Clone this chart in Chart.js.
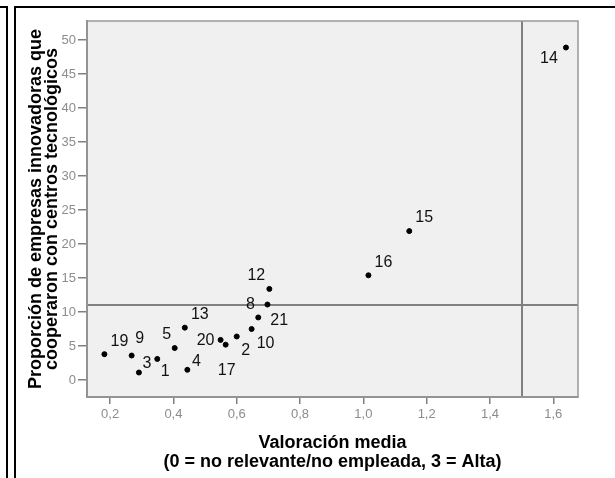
<!DOCTYPE html>
<html lang="es">

<head>
    <meta charset="UTF-8">
    <title>Valoración media vs cooperación</title>
    <style>
        body {
            margin: 0;
            padding: 0;
            background: #fff;
        }

        #wrap {
            width: 615px;
            height: 478px;
        }
    </style>
</head>

<body>
    <div id="wrap">
        <canvas id="scatterChart" width="615" height="478"></canvas>
    </div>

    <script src="https://cdn.jsdelivr.net/npm/chart.js"></script>
    <script>
        // point ids and values
        const ids = ['19', '9', '3', '1', '5', '13', '4', '20', '17', '2', '10', '21', '8', '12', '16', '15', '14'];
        const xVals = [0.182, 0.268, 0.291, 0.349, 0.404, 0.436, 0.444, 0.549, 0.565, 0.600, 0.647, 0.668, 0.697, 0.703, 1.016, 1.145, 1.640];
        const yVals = [3.8, 3.6, 1.1, 3.1, 4.7, 7.7, 1.5, 5.9, 5.2, 6.4, 7.5, 9.2, 11.1, 13.4, 15.4, 21.9, 48.9];

        const xTicks = [0.2, 0.4, 0.6, 0.8, 1.0, 1.2, 1.4, 1.6];
        const yTicks = [0, 5, 10, 15, 20, 25, 30, 35, 40, 45, 50];

        // reference lines
        const refX = 1.5;
        const refY = 11.1;

        // where each label sits relative to its dot (px)
        const labelOffsets = [
            [15, -13], [8, -17], [8, -9], [8, 13], [-8, -13], [15, -13], [9, -8], [-15, 1], [1, 26],
            [9, 14], [14, 15], [21, 3], [-17, 0], [-13, -13], [15, -13], [15, -14], [-17, 11]
        ];

        // frame, plot background, reference lines and point labels
        const decorPlugin = {
            id: 'decor',
            beforeDraw(chart) {
                const ctx = chart.ctx;
                const a = chart.chartArea;
                ctx.save();
                ctx.strokeStyle = '#000';
                ctx.lineWidth = 2;
                ctx.beginPath();
                ctx.moveTo(0, 7); ctx.lineTo(7, 7); ctx.lineTo(7, 478);
                ctx.moveTo(15, 478); ctx.lineTo(15, 7); ctx.lineTo(615, 7);
                ctx.stroke();
                ctx.fillStyle = '#f0f0f0';
                ctx.fillRect(a.left, a.top, a.right - a.left, a.bottom - a.top);
                ctx.restore();
            },
            beforeDatasetsDraw(chart) {
                const ctx = chart.ctx;
                const a = chart.chartArea;
                const xs = chart.scales.x;
                const ys = chart.scales.y;
                ctx.save();
                ctx.strokeStyle = '#808080';
                ctx.lineWidth = 2;
                const px = Math.round(xs.getPixelForValue(refX));
                const py = Math.round(ys.getPixelForValue(refY));
                ctx.beginPath();
                ctx.moveTo(px, a.top); ctx.lineTo(px, a.bottom);
                ctx.moveTo(a.left, py); ctx.lineTo(a.right, py);
                ctx.stroke();
                ctx.lineWidth = 1.5;
                ctx.strokeStyle = '#999';
                ctx.strokeRect(a.left, a.top, a.right - a.left, a.bottom - a.top);
                ctx.restore();
            },
            afterDatasetsDraw(chart) {
                const ctx = chart.ctx;
                const meta = chart.getDatasetMeta(0);
                ctx.save();
                ctx.font = '16px "Liberation Sans", Arial, sans-serif';
                ctx.fillStyle = '#111';
                ctx.textAlign = 'center';
                ctx.textBaseline = 'middle';
                meta.data.forEach((pt, i) => {
                    const off = labelOffsets[i];
                    ctx.fillText(ids[i], pt.x + off[0], pt.y + off[1]);
                });
                ctx.restore();
            }
        };

        const points = xVals.map((x, i) => ({ x: x, y: yVals[i] }));

        const tickFont = { family: '"Liberation Sans", Arial, sans-serif', size: 13 };
        const titleFont = { family: '"Liberation Sans", Arial, sans-serif', size: 18, weight: 'bold', lineHeight: 1.05 };

        const ctx = document.getElementById('scatterChart').getContext('2d');
        const chart = new Chart(ctx, {
            type: 'scatter',
            data: {
                datasets: [{
                    data: points,
                    backgroundColor: '#000',
                    borderColor: '#000',
                    pointRadius: 2.5,
                    pointHoverRadius: 2.5
                }]
            },
            options: {
                responsive: false,
                animation: false,
                layout: { padding: { left: 18, top: 21, right: 37, bottom: 0 } },
                plugins: {
                    legend: { display: false },
                    tooltip: { enabled: false }
                },
                scales: {
                    x: {
                        type: 'linear',
                        min: 0.127,
                        max: 1.678,
                        afterBuildTicks: s => { s.ticks = xTicks.map(v => ({ value: v })); },
                        afterFit: s => { s.height = 81; },
                        grid: { drawOnChartArea: false, drawTicks: true, tickLength: 7, color: '#808080', lineWidth: 1.5 },
                        border: { display: true, color: '#808080', width: 2 },
                        ticks: {
                            color: '#8c8c8c',
                            font: tickFont,
                            padding: 3,
                            maxRotation: 0,
                            callback: v => v.toFixed(1).replace('.', ',')
                        },
                        title: {
                            display: true,
                            text: ['Valoración media', '(0 = no relevante/no empleada, 3 = Alta)'],
                            color: '#000',
                            font: titleFont,
                            padding: { top: 0, bottom: 7 }
                        }
                    },
                    y: {
                        type: 'linear',
                        min: -2.5,
                        max: 52.8,
                        afterBuildTicks: s => { s.ticks = yTicks.map(v => ({ value: v })); },
                        afterFit: s => { s.width = 69; },
                        grid: { drawOnChartArea: false, drawTicks: true, tickLength: 9, color: '#808080', lineWidth: 1.5 },
                        border: { display: true, color: '#808080', width: 2 },
                        ticks: {
                            color: '#8c8c8c',
                            font: tickFont,
                            padding: 2
                        },
                        title: {
                            display: true,
                            text: ['Proporción de empresas innovadoras que', 'cooperaron con centros tecnológicos'],
                            color: '#000',
                            font: { family: titleFont.family, size: 18, weight: 'bold', lineHeight: 0.88 },
                            padding: { top: 10, bottom: 0 }
                        }
                    }
                }
            },
            plugins: [decorPlugin]
        });
    </script>
</body>

</html>
